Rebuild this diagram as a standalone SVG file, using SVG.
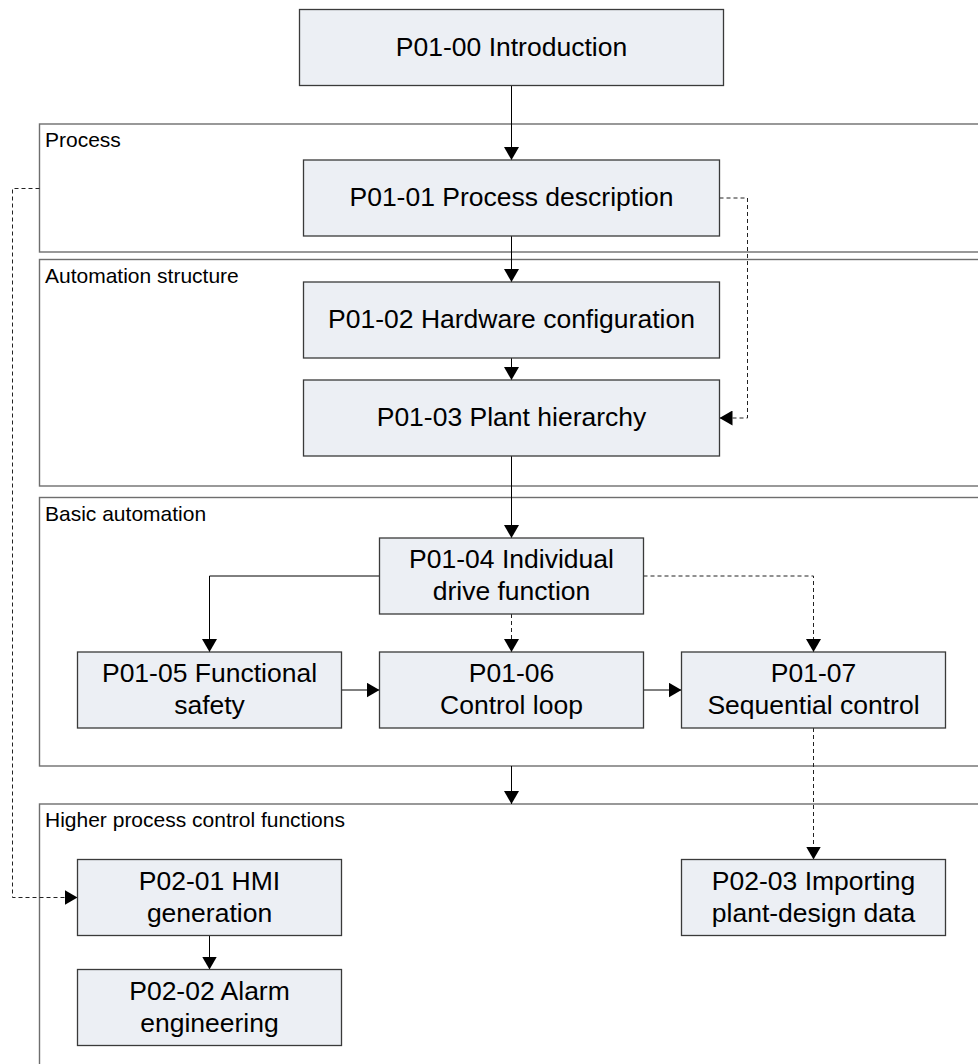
<svg xmlns="http://www.w3.org/2000/svg" width="978" height="1064" viewBox="0 0 978 1064">
<style>
.frame{fill:none;stroke:#6e6e6e;stroke-width:1.4}
.lbl{font-family:"Liberation Sans",Arial,sans-serif;font-size:21px;fill:#000}
.box{fill:#eceff4;stroke:#3a3a3a;stroke-width:1.3}
.t{font-family:"Liberation Sans",Arial,sans-serif;font-size:26.5px;fill:#000;text-anchor:middle}
.c{fill:none;stroke:#000;stroke-width:1}
.d{fill:none;stroke:#222;stroke-width:1;stroke-dasharray:4 3}
</style>
<defs>
<marker id="ah" markerWidth="14" markerHeight="15" refX="13" refY="7.5" orient="auto" markerUnits="userSpaceOnUse">
<path d="M0,0 L13,7.5 L0,15 Z" fill="#000"/>
</marker>
</defs>
<rect width="978" height="1064" fill="#fff"/>
<g id="frames">
<g id="frame-process"><rect class="frame" x="39.5" y="124" width="960" height="128"/><text class="lbl" x="45" y="147">Process</text></g>
<g id="frame-automation"><rect class="frame" x="39.5" y="259.5" width="960" height="226.5"/><text class="lbl" x="45" y="282.5">Automation structure</text></g>
<g id="frame-basic"><rect class="frame" x="39.5" y="497.5" width="960" height="268.5"/><text class="lbl" x="45" y="521">Basic automation</text></g>
<g id="frame-higher"><rect class="frame" x="39.5" y="804" width="960" height="300"/><text class="lbl" x="45" y="827">Higher process control functions</text></g>
</g>
<g id="connectors">
<path class="c" d="M511.5,85.5 V160" marker-end="url(#ah)"/>
<path class="c" d="M511.5,236 V282" marker-end="url(#ah)"/>
<path class="c" d="M511.5,358 V380" marker-end="url(#ah)"/>
<path class="c" d="M511.5,456 V538" marker-end="url(#ah)"/>
<path class="d" d="M719.5,198 H747.5 V418 H719.5" marker-end="url(#ah)"/>
<path class="c" d="M379.5,576 H209.5 V652" marker-end="url(#ah)"/>
<path class="d" d="M511.5,614 V652" marker-end="url(#ah)"/>
<path class="d" d="M643.5,576 H813.5 V652" marker-end="url(#ah)"/>
<path class="c" d="M341.5,690 H379.5" marker-end="url(#ah)"/>
<path class="c" d="M643.5,690 H681.5" marker-end="url(#ah)"/>
<path class="c" d="M511.5,766 V804" marker-end="url(#ah)"/>
<path class="d" d="M813.5,728 V859.5" marker-end="url(#ah)"/>
<path class="d" d="M39.5,188.5 H12.5 V897.5 H77.5" marker-end="url(#ah)"/>
<path class="c" d="M209.5,935.5 V969.5" marker-end="url(#ah)"/>
</g>
<g id="P01-00"><rect class="box" x="299.5" y="9.5" width="424" height="76"/><text class="t" x="511.5" y="55.5">P01-00 Introduction</text></g>
<g id="P01-01"><rect class="box" x="303.5" y="160" width="416" height="76"/><text class="t" x="511.5" y="206">P01-01 Process description</text></g>
<g id="P01-02"><rect class="box" x="303.5" y="282" width="416" height="76"/><text class="t" x="511.5" y="328">P01-02 Hardware configuration</text></g>
<g id="P01-03"><rect class="box" x="303.5" y="380" width="416" height="76"/><text class="t" x="511.5" y="426">P01-03 Plant hierarchy</text></g>
<g id="P01-04"><rect class="box" x="379.5" y="538" width="264" height="76"/><text class="t" x="511.5" y="568">P01-04 Individual</text><text class="t" x="511.5" y="600">drive function</text></g>
<g id="P01-05"><rect class="box" x="77.5" y="652" width="264" height="76"/><text class="t" x="209.5" y="682">P01-05 Functional</text><text class="t" x="209.5" y="714">safety</text></g>
<g id="P01-06"><rect class="box" x="379.5" y="652" width="264" height="76"/><text class="t" x="511.5" y="682">P01-06</text><text class="t" x="511.5" y="714">Control loop</text></g>
<g id="P01-07"><rect class="box" x="681.5" y="652" width="264" height="76"/><text class="t" x="813.5" y="682">P01-07</text><text class="t" x="813.5" y="714">Sequential control</text></g>
<g id="P02-01"><rect class="box" x="77.5" y="859.5" width="264" height="76"/><text class="t" x="209.5" y="889.5">P02-01 HMI</text><text class="t" x="209.5" y="921.5">generation</text></g>
<g id="P02-02"><rect class="box" x="77.5" y="969.5" width="264" height="76"/><text class="t" x="209.5" y="999.5">P02-02 Alarm</text><text class="t" x="209.5" y="1031.5">engineering</text></g>
<g id="P02-03"><rect class="box" x="681.5" y="859.5" width="264" height="76"/><text class="t" x="813.5" y="889.5">P02-03 Importing</text><text class="t" x="813.5" y="921.5">plant-design data</text></g>
</svg>
